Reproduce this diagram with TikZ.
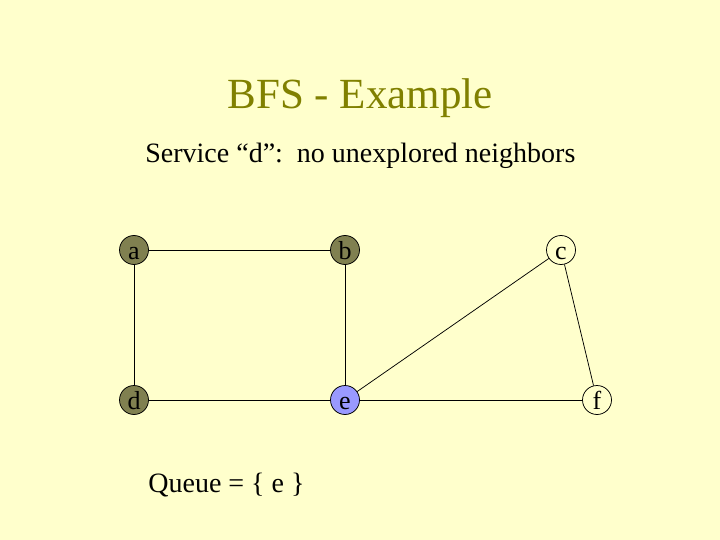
\documentclass[tikz,border=0pt]{standalone}
\usepackage{fontspec}
\setmainfont{Liberation Serif}
\usepackage{tikz}
\usetikzlibrary{positioning}
\definecolor{slidebg}{RGB}{255,255,204}
\definecolor{titleolive}{RGB}{128,128,0}
\definecolor{visited}{RGB}{128,128,80}
\definecolor{queued}{RGB}{153,153,255}

\begin{document}
\begin{tikzpicture}[x=1pt,y=-1pt,line width=0.75pt,
    vertex/.style={circle,draw,inner sep=0pt,minimum size=29pt,text height=19pt,text depth=0pt,font=\fontsize{26}{26}\selectfont},
    done/.style={vertex,fill=visited},
    inqueue/.style={vertex,fill=queued},
    txt/.style={font=\fontsize{28}{28}\selectfont,anchor=base west,inner sep=0pt}]
  % slide background
  \fill[slidebg] (0,0) rectangle (720,540);
  \useasboundingbox (0,0) rectangle (720,540);
  % heading
  \node[anchor=base,text=titleolive,font=\fontsize{43}{43}\selectfont,inner sep=0pt] (title) at (360,109) {BFS - Example};
  \node[txt] (step) at (145,163) {Service “d”:\ \ no unexplored neighbors};
  % graph vertices
  \node[done] (a) at (134,250) {a};
  \node[done] (b) at (345,250) {b};
  \node[vertex] (c) at (561,250) {c};
  \node[done] (d) at (134,400) {d};
  \node[inqueue] (e) at (345,400) {e};
  \node[vertex] (f) at (597,400) {f};
  % edges
  \draw (a) -- (b);
  \draw (a) -- (d);
  \draw (b) -- (e);
  \draw (d) -- (e);
  \draw (e) -- (f);
  \draw (e) -- (c);
  \draw (c) -- (f);
  % queue contents
  \node[txt] (queue) at (148,492) {Queue = \{ e \}};
\end{tikzpicture}
\end{document}
